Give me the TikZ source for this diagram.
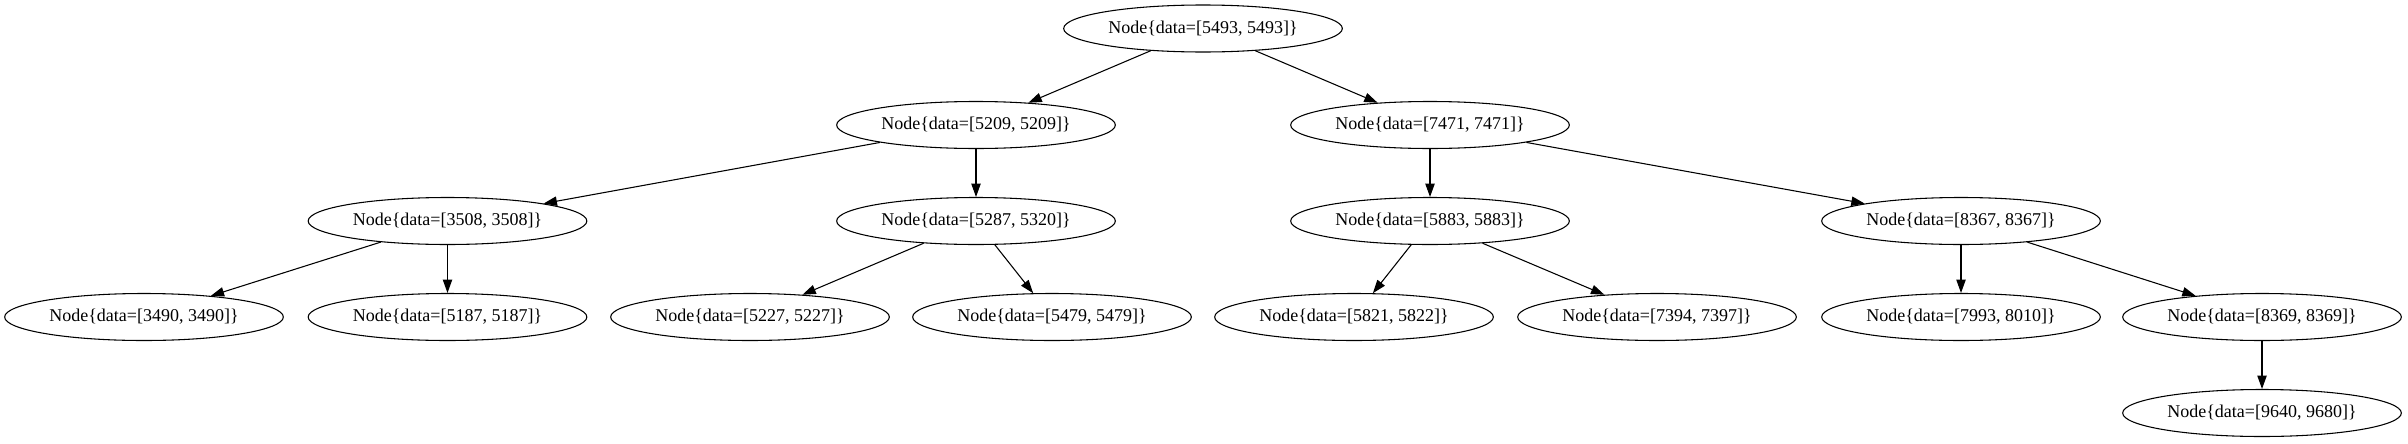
\documentclass[tikz,border=0pt]{standalone}
\usepackage{fontspec}
\setmainfont{Liberation Serif}
\usetikzlibrary{shapes.geometric,arrows.meta}
\begin{document}
\begin{tikzpicture}[x=0.75pt,y=-0.75pt,
  tn/.style={ellipse,draw,line width=0.8pt,minimum width=209pt,minimum height=35.25pt,inner sep=0pt,font=\fontsize{13.5}{15}\selectfont},
  ed/.style={-{Triangle[length=10pt,width=7pt]},line width=0.8pt}]
\useasboundingbox (0,0) rectangle (2408,443);
\node[tn] (r) at (1203,28.5) {Node\{data=[5493, 5493]\}};
\node[tn] (a) at (976,125) {Node\{data=[5209, 5209]\}};
\node[tn] (b) at (1430,125) {Node\{data=[7471, 7471]\}};
\node[tn] (c) at (447.5,221) {Node\{data=[3508, 3508]\}};
\node[tn] (d) at (976,221) {Node\{data=[5287, 5320]\}};
\node[tn] (e) at (1430,221) {Node\{data=[5883, 5883]\}};
\node[tn] (f) at (1961,221) {Node\{data=[8367, 8367]\}};
\node[tn] (g) at (144,317) {Node\{data=[3490, 3490]\}};
\node[tn] (h) at (447.5,317) {Node\{data=[5187, 5187]\}};
\node[tn] (i) at (750,317) {Node\{data=[5227, 5227]\}};
\node[tn] (j) at (1052,317) {Node\{data=[5479, 5479]\}};
\node[tn] (k) at (1354,317) {Node\{data=[5821, 5822]\}};
\node[tn] (l) at (1657,317) {Node\{data=[7394, 7397]\}};
\node[tn] (m) at (1961,317) {Node\{data=[7993, 8010]\}};
\node[tn] (n) at (2262,317) {Node\{data=[8369, 8369]\}};
\node[tn] (o) at (2262,413) {Node\{data=[9640, 9680]\}};
\draw[ed] (r) -- (a);
\draw[ed] (r) -- (b);
\draw[ed] (a) -- (c);
\draw[ed] (a) -- (d);
\draw[ed] (b) -- (e);
\draw[ed] (b) -- (f);
\draw[ed] (c) -- (g);
\draw[ed] (c) -- (h);
\draw[ed] (d) -- (i);
\draw[ed] (d) -- (j);
\draw[ed] (e) -- (k);
\draw[ed] (e) -- (l);
\draw[ed] (f) -- (m);
\draw[ed] (f) -- (n);
\draw[ed] (n) -- (o);
\end{tikzpicture}
\end{document}
